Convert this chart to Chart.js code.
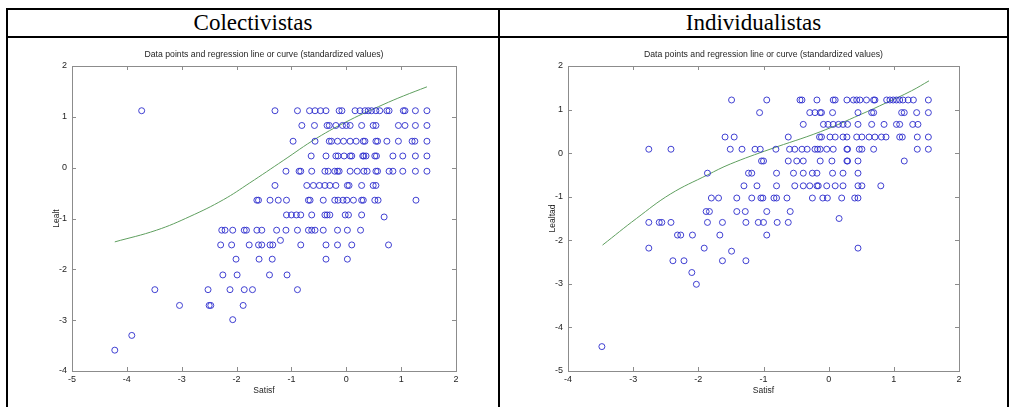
<!DOCTYPE html>
<html>
<head>
<meta charset="utf-8">
<script src="https://cdn.jsdelivr.net/npm/chart.js@4.4.1/dist/chart.umd.min.js"></script>
<style>
  html, body { margin: 0; padding: 0; background: #fff; }
  body { width: 1010px; height: 407px; position: relative; overflow: hidden; }
  .ln { position: absolute; background: #000; }
  .hdr { position: absolute; top: 9px; height: 28px; line-height: 28px; text-align: center;
         font-family: "Liberation Serif", "Times New Roman", serif; font-size: 23px; color: #000; }
  canvas { position: absolute; }
</style>
</head>
<body>
<div class="ln" style="left:6px; top:8px; width:1003px; height:2px;"></div>
<div class="ln" style="left:6px; top:36px; width:1003px; height:2px;"></div>
<div class="ln" style="left:6px; top:8px; width:2px; height:399px;"></div>
<div class="ln" style="left:498px; top:8px; width:2px; height:399px;"></div>
<div class="ln" style="left:1007px; top:8px; width:2px; height:399px;"></div>
<div class="hdr" style="left:8px; width:490px;">Colectivistas</div>
<div class="hdr" style="left:500px; width:507px;">Individualistas</div>
<canvas id="c1" width="490" height="366" style="left:8px; top:39px;"></canvas>
<canvas id="c2" width="506" height="366" style="left:501px; top:39px;"></canvas>
<script>
// ---------------- DATA ----------------
const chartTitle = "Data points and regression line or curve (standardized values)";
const xLabel = "Satisf";

// Colectivistas
const colYLabel = "Lealt";
const colXTicks = [-5, -4, -3, -2, -1, 0, 1, 2];
const colYTicks = [-4, -3, -2, -1, 0, 1, 2];
const colRowY = [1.12, 0.83, 0.52, 0.23, -0.07, -0.35, -0.64, -0.93, -1.23, -1.52, -1.80, -2.11, -2.40, -2.71, -2.99, -3.30, -3.59];
const colRowX = [
  [-3.73, -1.30, -0.89, -0.67, -0.57, -0.47, -0.37, -0.13, -0.08, 0.16, 0.25, 0.34, 0.40, 0.46, 0.54, 0.61, 0.74, 0.78, 1.04, 1.07, 1.26, 1.47],
  [-0.81, -0.58, -0.35, -0.31, -0.19, -0.07, 0.00, 0.07, 0.28, 0.49, 0.54, 0.95, 1.07, 1.26, 1.47],
  [-0.97, -0.57, -0.31, -0.27, -0.16, -0.05, 0.07, 0.18, 0.31, 0.34, 0.54, 0.57, 0.74, 0.95, 1.20, 1.25, 1.47],
  [-0.64, -0.37, -0.19, -0.15, -0.04, 0.07, 0.10, 0.30, 0.32, 0.36, 0.52, 0.55, 0.85, 1.03, 1.26, 1.47],
  [-1.10, -0.86, -0.83, -0.63, -0.39, -0.33, -0.21, -0.16, -0.13, 0.07, 0.20, 0.32, 0.38, 0.54, 0.57, 0.78, 0.85, 1.03, 1.26, 1.47],
  [-1.30, -0.72, -0.60, -0.49, -0.39, -0.30, -0.19, 0.02, 0.05, 0.28, 0.49, 0.54],
  [-1.63, -1.60, -1.39, -1.24, -1.09, -0.69, -0.66, -0.42, -0.21, -0.15, -0.06, 0.01, 0.13, 0.28, 0.31, 0.52, 0.58, 1.27],
  [-1.09, -1.00, -0.91, -0.83, -0.63, -0.39, -0.35, -0.30, -0.02, 0.04, 0.28],
  [-2.27, -2.21, -2.07, -1.86, -1.82, -1.63, -1.54, -1.27, -1.10, -0.89, -0.69, -0.63, -0.57, -0.42, -0.16, 0.02, 0.26],
  [-2.29, -2.09, -1.77, -1.60, -1.54, -1.39, -1.34, -0.83, -0.37, -0.16, 0.10, 0.77],
  [-2.01, -1.59, -1.35, -0.37, 0.02],
  [-2.25, -1.99, -1.40, -1.08],
  [-3.49, -2.52, -2.12, -1.86, -1.71, -0.89],
  [-3.04, -2.50, -2.47, -1.88],
  [-2.07],
  [-3.91],
  [-4.22]
];
const colExtraX = [-1.20, 0.69];
const colExtraY = [-1.43, -0.97];
const colCurveX = [-4.22, -3.46, -2.85, -2.24, -1.76, -1.15, -0.54, 0.07, 0.67, 1.04, 1.47];
const colCurveY = [-1.46, -1.23, -0.96, -0.63, -0.30, 0.14, 0.58, 0.94, 1.24, 1.41, 1.59];

// Individualistas
const indYLabel = "Lealtad";
const indXTicks = [-4, -3, -2, -1, 0, 1, 2];
const indYTicks = [-5, -4, -3, -2, -1, 0, 1, 2];
const indRowY = [1.22, 0.93, 0.66, 0.37, 0.09, -0.18, -0.46, -0.75, -1.03, -1.34, -1.59, -1.88, -2.18, -2.47, -2.74, -3.01, -4.44];
const indRowX = [
  [-1.49, -0.95, -0.44, -0.41, -0.18, 0.07, 0.10, 0.28, 0.38, 0.43, 0.48, 0.58, 0.69, 0.71, 0.89, 0.94, 0.99, 1.04, 1.09, 1.14, 1.22, 1.30, 1.53],
  [-1.06, -0.29, -0.21, -0.13, -0.11, 0.06, 0.45, 0.66, 0.69, 1.12, 1.16, 1.35, 1.53],
  [-0.39, -0.08, -0.01, 0.07, 0.15, 0.22, 0.29, 0.45, 0.66, 0.85, 1.04, 1.09, 1.29, 1.37],
  [-1.59, -1.45, -0.62, -0.14, -0.11, 0.02, 0.10, 0.22, 0.28, 0.43, 0.51, 0.62, 0.71, 0.81, 0.88, 1.09, 1.13, 1.36, 1.53],
  [-2.76, -2.42, -1.51, -1.33, -1.13, -1.05, -0.81, -0.60, -0.52, -0.41, -0.33, -0.21, -0.17, -0.13, -0.03, 0.07, 0.28, 0.29, 0.47, 0.51, 0.69, 1.36, 1.53],
  [-1.03, -1.00, -0.62, -0.49, -0.39, -0.13, 0.05, 0.28, 0.29, 0.45, 1.16],
  [-1.86, -1.23, -1.18, -0.80, -0.54, -0.39, -0.25, -0.18, 0.06, 0.22, 0.45],
  [-1.30, -1.10, -0.80, -0.52, -0.39, -0.29, -0.18, -0.16, -0.03, 0.10, 0.22, 0.45, 0.51, 0.80],
  [-1.80, -1.69, -1.41, -1.18, -1.04, -1.01, -0.84, -0.80, -0.64, -0.25, -0.09, -0.02, 0.20, 0.40, 0.45],
  [-1.88, -1.83, -1.41, -1.28, -0.95, -0.59],
  [-2.76, -2.60, -2.56, -2.42, -1.86, -1.63, -1.27, -1.08, -1.00, -0.79, -0.62],
  [-2.32, -2.27, -2.09, -1.67, -0.95],
  [-2.76, -1.91, 0.45],
  [-2.39, -2.22, -1.63, -1.27],
  [-2.10],
  [-2.03],
  [-3.48]
];
const indExtraX = [0.16, -1.49];
const indExtraY = [-1.50, -2.25];
const indCurveX = [-3.47, -2.95, -2.43, -1.86, -1.51, -0.90, -0.13, 0.48, 0.89, 1.27, 1.54];
const indCurveY = [-2.11, -1.50, -0.94, -0.50, -0.25, 0.09, 0.49, 0.88, 1.16, 1.43, 1.66];

// ---------------- BUILD ----------------
function buildPoints(rowY, rowX, exX, exY) {
  const pts = [];
  rowY.forEach((y, i) => rowX[i].forEach(x => pts.push({ x: x, y: y })));
  exX.forEach((x, i) => pts.push({ x: x, y: exY[i] }));
  return pts;
}
function buildCurve(cx, cy) { return cx.map((x, i) => ({ x: x, y: cy[i] })); }

const FRAME = '#8c8c8c';
const TXT = '#1e1e1e';
const SANS = '"Liberation Sans", Arial, sans-serif';

const matlabFrame = {
  id: 'matlabFrame',
  afterDraw(chart, args, opts) {
    const ctx = chart.ctx, a = chart.chartArea;
    const xs = chart.scales.x, ys = chart.scales.y;
    ctx.save();
    ctx.strokeStyle = FRAME;
    ctx.lineWidth = 1;
    ctx.strokeRect(Math.round(a.left) + 0.5, Math.round(a.top) + 0.5,
                   Math.round(a.right - a.left), Math.round(a.bottom - a.top));
    const tl = 4;
    ctx.beginPath();
    opts.xTicks.forEach(v => {
      const px = Math.round(xs.getPixelForValue(v)) + 0.5;
      ctx.moveTo(px, a.bottom); ctx.lineTo(px, a.bottom - tl);
      ctx.moveTo(px, a.top); ctx.lineTo(px, a.top + tl);
    });
    opts.yTicks.forEach(v => {
      const py = Math.round(ys.getPixelForValue(v)) + 0.5;
      ctx.moveTo(a.left, py); ctx.lineTo(a.left + tl, py);
      ctx.moveTo(a.right, py); ctx.lineTo(a.right - tl, py);
    });
    ctx.stroke();
    ctx.fillStyle = TXT;
    ctx.font = '8.7px ' + SANS;
    ctx.textAlign = 'center';
    ctx.textBaseline = 'middle';
    ctx.fillText(opts.title, (a.left + a.right) / 2, a.top - 11);
    ctx.font = '8.5px ' + SANS;
    ctx.fillText(opts.xLabel, (a.left + a.right) / 2, a.bottom + 20);
    ctx.translate(a.left - 15, (a.top + a.bottom) / 2);
    ctx.rotate(-Math.PI / 2);
    ctx.fillText(opts.yLabel, 0, 0);
    ctx.restore();
  }
};

function makeChart(id, pts, curve, xr, yr, xTicks, yTicks, yLabel, pad) {
  return new Chart(document.getElementById(id), {
    type: 'scatter',
    data: {
      datasets: [
        { data: pts, showLine: false, pointStyle: 'circle', pointRadius: 3,
          pointHoverRadius: 3, borderWidth: 1, borderColor: 'rgba(45,45,205,0.9)',
          backgroundColor: 'rgba(0,0,0,0)' },
        { data: curve, showLine: true, pointRadius: 0, borderWidth: 1,
          borderColor: '#5f9f5f', backgroundColor: 'rgba(0,0,0,0)',
          tension: 0.4, fill: false }
      ]
    },
    options: {
      responsive: false, animation: false, devicePixelRatio: 1,
      layout: { padding: pad },
      plugins: {
        legend: { display: false }, tooltip: { enabled: false }, title: { display: false },
        matlabFrame: { title: chartTitle, xLabel: xLabel, yLabel: yLabel, xTicks: xTicks, yTicks: yTicks }
      },
      scales: {
        x: {
          type: 'linear', min: xr[0], max: xr[1],
          afterBuildTicks: s => { s.ticks = xTicks.map(v => ({ value: v })); },
          afterFit: s => { s.height = 20; },
          grid: { display: false, drawTicks: false },
          border: { display: false },
          ticks: { padding: 3, color: TXT, font: { family: SANS, size: 9 }, maxRotation: 0, autoSkip: false }
        },
        y: {
          type: 'linear', min: yr[0], max: yr[1],
          afterBuildTicks: s => { s.ticks = yTicks.map(v => ({ value: v })); },
          afterFit: s => { s.width = 30; },
          grid: { display: false, drawTicks: false },
          border: { display: false },
          ticks: { padding: 5, color: TXT, font: { family: SANS, size: 9 }, autoSkip: false }
        }
      }
    },
    plugins: [matlabFrame]
  });
}

makeChart('c1', buildPoints(colRowY, colRowX, colExtraX, colExtraY), buildCurve(colCurveX, colCurveY),
  [-5, 2], [-4, 2], colXTicks, colYTicks, colYLabel, { left: 34, right: 42, top: 27, bottom: 14 });
makeChart('c2', buildPoints(indRowY, indRowX, indExtraX, indExtraY), buildCurve(indCurveX, indCurveY),
  [-4, 2], [-5, 2], indXTicks, indYTicks, indYLabel, { left: 37, right: 48, top: 27, bottom: 14 });
</script>
</body>
</html>
